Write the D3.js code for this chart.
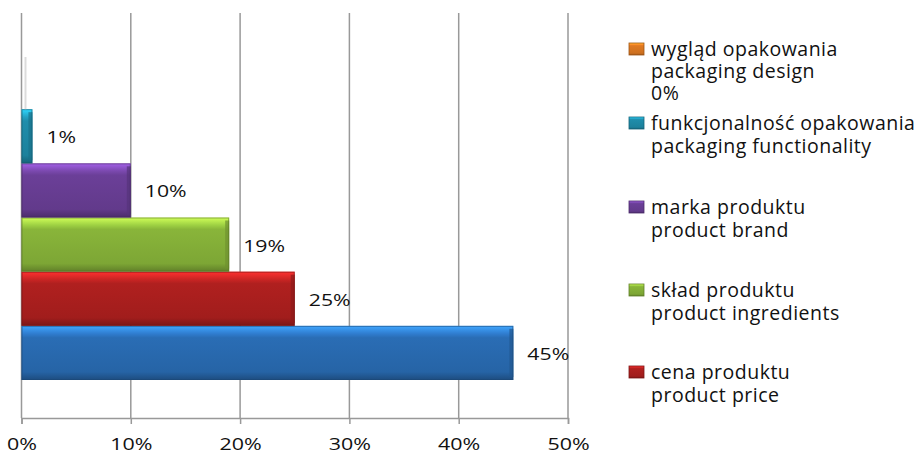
<!DOCTYPE html>
<html>
<head>
<meta charset="utf-8">
<script src="https://cdn.jsdelivr.net/npm/d3@7"></script>
<style>
	body { margin: 0; background: #fff; }
	text { font-family: 'Open Sans', sans-serif; fill: #111; }
</style>
</head>
<body>
<svg id="chart" width="917" height="455"></svg>
<script>

// series, bottom to top as drawn
var seriesKeys = ['other', 'price', 'ingredients', 'brand', 'functionality', 'design']
var seriesValues = [45, 25, 19, 10, 1, 0]
var seriesColors = ['#2a6db5', '#b0201f', '#89b53a', '#6b3f98', '#1f8dab', '#e07a22']
var legendKeys = ['design', 'functionality', 'brand', 'ingredients', 'price']
var legendLines = [
	['wygląd opakowania', 'packaging design', '0%'],
	['funkcjonalność opakowania', 'packaging functionality'],
	['marka produktu', 'product brand'],
	['skład produktu', 'product ingredients'],
	['cena produktu', 'product price']
]
var xTicks = [0, 10, 20, 30, 40, 50]

var svg = d3.select('#chart')
	, defs = svg.append('defs')

var plotTop = 13
	, plotBottom = 418

var x = d3.scaleLinear().domain([0, 50]).range([21.5, 568])
var y = d3.scaleBand().domain(seriesKeys).range([380, 55]).padding(0)

/**
 * bevel gradient for one colour
 */
function makeGradient(id, c) {
	var base = d3.color(c)
	var g = defs.append('linearGradient').attr('id', id)
		.attr('x1', 0).attr('y1', 0).attr('x2', 0).attr('y2', 1)
	g.append('stop').attr('offset', '0%').attr('stop-color', base.brighter(1.2))
	g.append('stop').attr('offset', '14%').attr('stop-color', base.brighter(0.4))
	g.append('stop').attr('offset', '22%').attr('stop-color', base)
	g.append('stop').attr('offset', '85%').attr('stop-color', base.darker(0.25))
	g.append('stop').attr('offset', '100%').attr('stop-color', base.darker(1))
}

seriesKeys.forEach(function(k, i) {
	makeGradient('grad-' + k, seriesColors[i])
})

// gridlines
svg.append('g').selectAll('line').data(xTicks)
  .enter().append('line')
	.attr('x1', function(d) { return x(d) })
	.attr('x2', function(d) { return x(d) })
	.attr('y1', plotTop)
	.attr('y2', plotBottom)
	.attr('stroke', '#999')
	.attr('stroke-width', 1.5)

// x axis (labels are drawn wide, like the original's stretched type)
var axis = svg.append('g')
	.attr('transform', 'translate(0,' + plotBottom + ')')
	.call(d3.axisBottom(x).tickValues(xTicks).tickSize(6).tickFormat(function(d) { return d + '%' }))
axis.select('.domain').attr('stroke', '#999').attr('stroke-width', 1.5)
axis.selectAll('.tick line').attr('stroke', '#999').attr('stroke-width', 1.5)
axis.selectAll('.tick text')
	.attr('y', 32)
	.attr('dy', 0)
	.attr('transform', 'scale(1.3,1)')
	.style('font-size', '16.5px')
	.style('font-family', "'Open Sans', sans-serif")
	.attr('fill', '#111')

// bars
var bars = svg.append('g').selectAll('g.bar').data(seriesKeys)
  .enter().append('g').attr('class', 'bar')

bars.append('rect')
	.attr('x', x(0))
	.attr('y', function(d) { return y(d) })
	.attr('width', function(d, i) { return x(seriesValues[i]) - x(0) })
	.attr('height', y.bandwidth())
	.attr('fill', function(d) { return 'url(#grad-' + d + ')' })

// darker right edge
bars.append('rect')
	.attr('x', function(d, i) { return Math.max(x(0), x(seriesValues[i]) - 4) })
	.attr('y', function(d) { return y(d) + 3 })
	.attr('width', function(d, i) { return seriesValues[i] > 0 ? 4 : 0 })
	.attr('height', y.bandwidth() - 6)
	.attr('fill', function(d, i) { return d3.color(seriesColors[i]).darker(0.6) })
	.attr('opacity', 0.7)

// outline
bars.append('rect')
	.attr('x', x(0) + 0.5)
	.attr('y', function(d) { return y(d) + 0.5 })
	.attr('width', function(d, i) { return Math.max(0, x(seriesValues[i]) - x(0) - 1) })
	.attr('height', y.bandwidth() - 1)
	.attr('fill', 'none')
	.attr('stroke', function(d, i) { return seriesValues[i] > 0 ? d3.color(seriesColors[i]).darker(1.2) : '#e4e4e4' })
	.attr('stroke-width', 1)
	.attr('stroke-opacity', 0.6)

// zero-width bar shows as faint line
svg.append('line')
	.attr('x1', x(0) + 4).attr('x2', x(0) + 4)
	.attr('y1', y('design') + 2).attr('y2', y('design') + y.bandwidth())
	.attr('stroke', '#dcdcdc').attr('stroke-width', 2)

// value labels
svg.append('g').selectAll('g').data(seriesKeys.filter(function(d, i) { return seriesValues[i] > 0 }))
  .enter().append('g')
	.attr('transform', function(d) {
		return 'translate(' + (x(seriesValues[seriesKeys.indexOf(d)]) + 14) + ',' + (y(d) + y.bandwidth() / 2 + 7) + ')'
	})
  .append('text')
	.attr('transform', 'scale(1.25,1)')
	.style('font-size', '17px')
	.text(function(d) { return seriesValues[seriesKeys.indexOf(d)] + '%' })

// legend
var legendY = [56, 130, 214, 297, 379]
var legendGap = [22, 22.5, 23, 22.5, 22.5]
var legend = svg.append('g').selectAll('g').data(legendKeys)
  .enter().append('g')
	.attr('transform', function(d, i) { return 'translate(629,' + legendY[i] + ')' })

legend.append('rect')
	.attr('x', 0).attr('y', -13)
	.attr('width', 15).attr('height', 12)
	.attr('fill', function(d) { return 'url(#grad-' + d + ')' })
	.attr('stroke', function(d) { return d3.color(seriesColors[seriesKeys.indexOf(d)]).darker(1) })
	.attr('stroke-width', 0.8)

legend.each(function(d, i) {
	var g = d3.select(this)
	legendLines[i].forEach(function(line, j) {
		g.append('text')
			.attr('x', 22)
			.attr('y', j * legendGap[i])
			.style('font-size', '19.5px')
			.style('letter-spacing', '0.5px')
			.text(line)
	})
})

</script>
</body>
</html>
